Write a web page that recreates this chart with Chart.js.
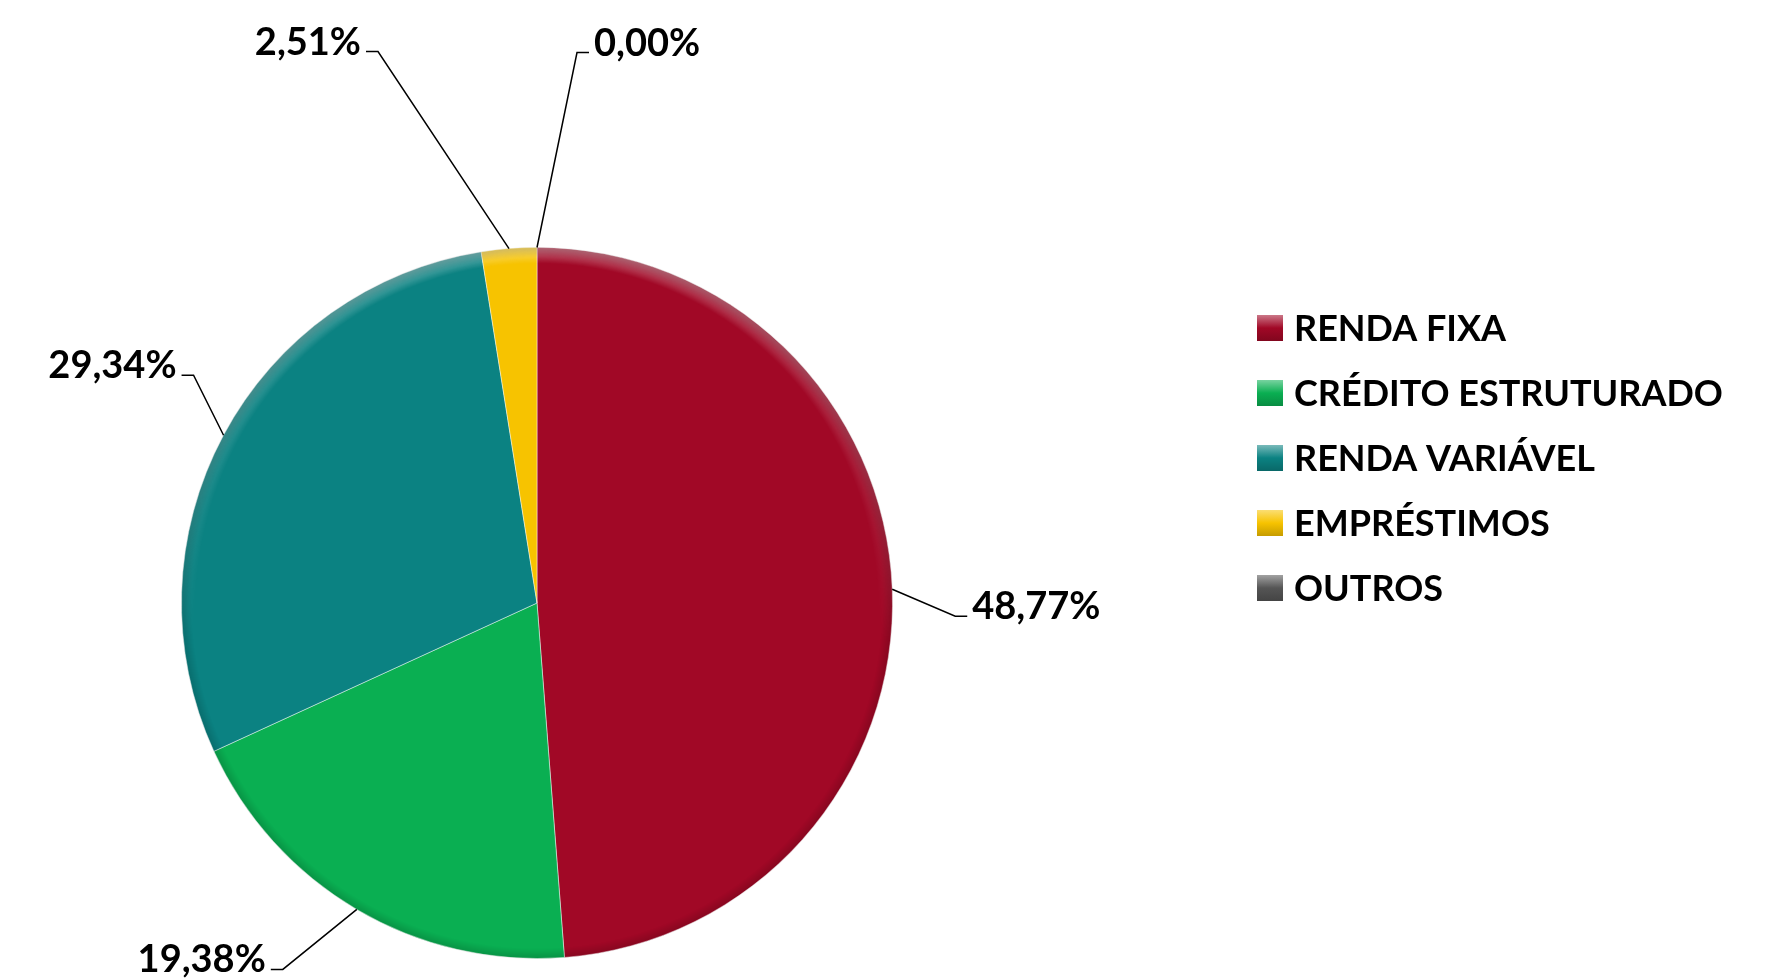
<!DOCTYPE html>
<html>
<head>
<meta charset="utf-8">
<script src="https://cdn.jsdelivr.net/npm/chart.js@4/dist/chart.umd.min.js"></script>
<style>
  html, body { margin: 0; padding: 0; background: #fff; overflow: hidden; }
  canvas { display: block; }
</style>
</head>
<body>
<canvas id="pie" width="1775" height="979"></canvas>
<script>
// data
var categories = ['RENDA FIXA', 'CRÉDITO ESTRUTURADO', 'RENDA VARIÁVEL', 'EMPRÉSTIMOS', 'OUTROS'];
var shares = [48.77, 19.38, 29.34, 2.51, 0.00];
var shareLabels = ['48,77%', '19,38%', '29,34%', '2,51%', '0,00%'];
var sliceColors = ['#a10826', '#0aaf52', '#0b8282', '#f7c300', '#555555'];

// where each data label sits, relative to the anchor on the rim (dx, dy)
var labelOffsets = [[63, 27], [-74, 60], [-30, -60], [-131, -197], [40, -195]];

var font = 'Lato, "Open Sans", sans-serif';

var leaderLabels = {
    id: 'leaderLabels',
    afterDatasetsDraw: function(chart){
        var ctx = chart.ctx
        var arcs = chart.getDatasetMeta(0).data
        ctx.save()
        ctx.font = 'bold 38px ' + font
        ctx.textBaseline = 'alphabetic'
        arcs.forEach(function(arc, i){
            var mid = (arc.startAngle + arc.endAngle) / 2
            var ax = arc.x + Math.cos(mid) * arc.outerRadius
            var ay = arc.y + Math.sin(mid) * arc.outerRadius
            var ex = ax + labelOffsets[i][0]
            var ey = ay + labelOffsets[i][1]
            var right = labelOffsets[i][0] >= 0
            var hx = ex + (right ? 12 : -12)
            ctx.strokeStyle = '#000'
            ctx.lineWidth = 1.5
            ctx.beginPath()
            ctx.moveTo(ax, ay)
            ctx.lineTo(ex, ey)
            ctx.lineTo(hx, ey)
            ctx.stroke()
            ctx.fillStyle = '#000'
            ctx.textAlign = right ? 'left' : 'right'
            ctx.fillText(shareLabels[i], hx + (right ? 5 : -5), ey + 3)
        })
        ctx.restore()
    }
}

var sideLegend = {
    id: 'sideLegend',
    afterDraw: function(chart){
        var ctx = chart.ctx
        ctx.save()
        ctx.font = 'bold 36px ' + font
        ctx.textBaseline = 'middle'
        ctx.textAlign = 'left'
        categories.forEach(function(name, i){
            var y = 328 + i * 65
            var g = ctx.createLinearGradient(0, y - 13, 0, y + 13)
            g.addColorStop(0, shade(sliceColors[i], 0.45))
            g.addColorStop(0.5, sliceColors[i])
            g.addColorStop(1, shade(sliceColors[i], -0.2))
            ctx.fillStyle = g
            ctx.fillRect(1257, y - 13, 26, 26)
            ctx.fillStyle = '#000'
            ctx.fillText(name, 1294, y + 1)
        })
        ctx.restore()
    }
}

// soft rim shading for the bevelled look: light toward the top, darker toward the bottom
var rimShade = {
    id: 'rimShade',
    afterDatasetsDraw: function(chart){
        var arc = chart.getDatasetMeta(0).data[0]
        if (!arc || !(arc.outerRadius > 0)) return
        var r = arc.outerRadius
        var size = Math.ceil(2 * r) + 4
        var off = document.createElement('canvas')
        off.width = size
        off.height = size
        var o = off.getContext('2d')
        var c = size / 2
        // light layer
        var rg = o.createRadialGradient(c, c, r - 16, c, c, r)
        rg.addColorStop(0, 'rgba(255,255,255,0)')
        rg.addColorStop(1, 'rgba(255,255,255,0.45)')
        o.fillStyle = rg
        o.beginPath()
        o.arc(c, c, r, 0, Math.PI * 2)
        o.fill()
        o.globalCompositeOperation = 'destination-in'
        var lg = o.createLinearGradient(0, 0, 0, size)
        lg.addColorStop(0, 'rgba(0,0,0,1)')
        lg.addColorStop(0.55, 'rgba(0,0,0,0)')
        lg.addColorStop(1, 'rgba(0,0,0,0)')
        o.fillStyle = lg
        o.fillRect(0, 0, size, size)
        // dark layer
        o.globalCompositeOperation = 'source-over'
        var dg = o.createRadialGradient(c, c, r - 10, c, c, r)
        dg.addColorStop(0, 'rgba(0,0,0,0)')
        dg.addColorStop(1, 'rgba(0,0,0,0.16)')
        o.fillStyle = dg
        o.beginPath()
        o.arc(c, c, r, 0, Math.PI * 2)
        o.fill()
        chart.ctx.drawImage(off, arc.x - c, arc.y - c)
    }
}

function shade(hex, amt){
    var n = parseInt(hex.slice(1), 16)
    var c = [(n >> 16) & 255, (n >> 8) & 255, n & 255].map(function(v){
        return Math.round(amt > 0 ? v + (255 - v) * amt : v * (1 + amt))
    })
    return 'rgb(' + c.join(',') + ')'
}

var ctx = document.getElementById('pie')
var pie = new Chart(ctx, {
    type: 'pie',
    data: {
        labels: categories,
        datasets: [{
            data: shares,
            backgroundColor: sliceColors,
            borderColor: 'rgba(255,255,255,0.45)',
            borderWidth: 1
        }]
    },
    options: {
        responsive: false,
        animation: false,
        layout: {
            padding: { top: 247, bottom: 20, left: 181, right: 882 }
        },
        plugins: {
            legend: { display: false },
            tooltip: { enabled: false }
        }
    },
    plugins: [rimShade, leaderLabels, sideLegend]
});
</script>
</body>
</html>
